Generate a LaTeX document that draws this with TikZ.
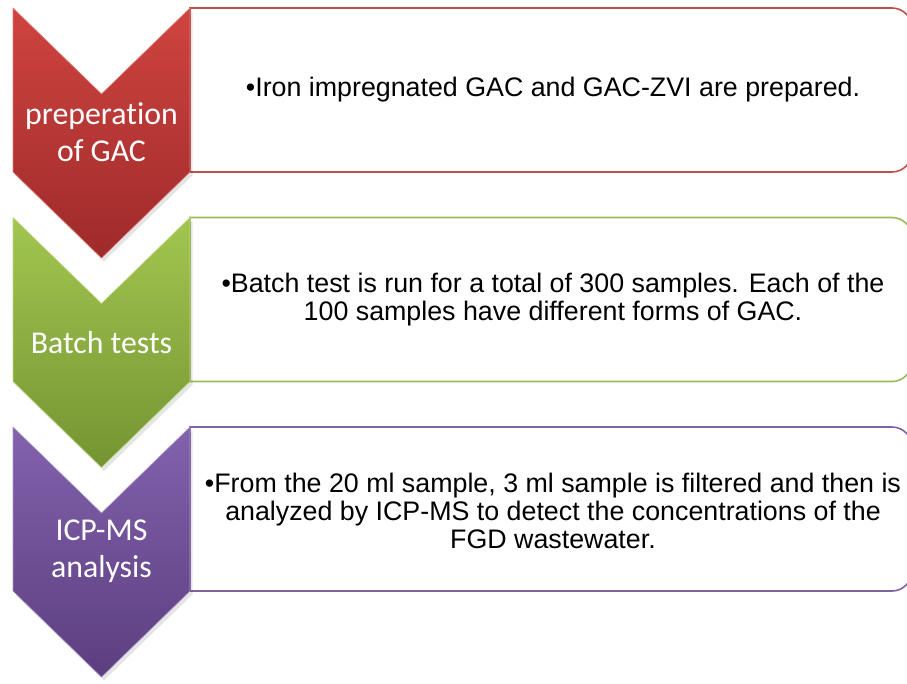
\documentclass[tikz,border=0pt]{standalone}
\usepackage{fontspec}
\setmainfont{Liberation Sans}
\newfontfamily\chevfont[Ligatures=NoCommon]{Carlito}
\definecolor{redtop}{RGB}{207,68,64}
\definecolor{redbot}{RGB}{158,42,42}
\definecolor{redline}{RGB}{192,80,77}
\definecolor{grntop}{RGB}{162,198,80}
\definecolor{grnbot}{RGB}{116,148,50}
\definecolor{grnline}{RGB}{155,187,89}
\definecolor{purtop}{RGB}{130,98,172}
\definecolor{purbot}{RGB}{92,62,128}
\definecolor{purline}{RGB}{128,100,162}
\tikzset{
  boxline/.style={line width=1.6pt, fill=white},
  chevshadow/.style={fill=black, opacity=0.10},
  chevtext/.style={font=\chevfont\fontsize{31.8}{37}\selectfont, text=white, align=center},
  boxtext/.style={font=\fontsize{26.8}{27.6}\selectfont, align=center, text=black, inner sep=0pt},
}
\newcommand\boxpath{(190,8) -- (892,8) .. controls (903,8) and (912,17) .. (912,28) -- (912,152) .. controls (912,163) and (903,172) .. (892,172) -- (190,172) -- cycle}
\newcommand\chevpath{(13,8) -- (101.5,94) -- (190,8) -- (190,172) -- (101.5,258) -- (13,172) -- cycle}
\begin{document}
\begin{tikzpicture}[x=1pt,y=-1pt]
\useasboundingbox (0,0) rectangle (907,683);
% step 1
\begin{scope}
  \draw[boxline, draw=redline] \boxpath;
  \begin{scope}[shift={(2.5,3.5)}]\fill[chevshadow] \chevpath;\end{scope}
  \shade[top color=redtop, bottom color=redbot, draw=redtop!70!white, line width=0.6pt] \chevpath;
  \node[chevtext] (c1) at (101.5,132) {preperation\\of GAC};
  \node[boxtext] (t1) at (553,90) {•Iron impregnated GAC and GAC-ZVI are prepared.};
\end{scope}
% step 2
\begin{scope}[shift={(0,209.5)}]
  \draw[boxline, draw=grnline] \boxpath;
  \begin{scope}[shift={(2.5,3.5)}]\fill[chevshadow] \chevpath;\end{scope}
  \shade[top color=grntop, bottom color=grnbot, draw=grntop!70!white, line width=0.6pt] \chevpath;
  \node[chevtext] (c2) at (101.5,133) {Batch tests};
  \node[boxtext] (t2) at (553,90) {•Batch test is run for a total of 300 samples. Each of the\\100 samples have different forms of GAC.};
\end{scope}
% step 3
\begin{scope}[shift={(0,419)}]
  \draw[boxline, draw=purline] \boxpath;
  \begin{scope}[shift={(2.5,3.5)}]\fill[chevshadow] \chevpath;\end{scope}
  \shade[top color=purtop, bottom color=purbot, draw=purtop!70!white, line width=0.6pt] \chevpath;
  \node[chevtext] (c3) at (101.5,132) {ICP-MS\\analysis};
  \node[boxtext] (t3) at (553,92) {•From the 20 ml sample, 3 ml sample is filtered and then is\\analyzed by ICP-MS to detect the concentrations of the\\FGD wastewater.};
\end{scope}
\end{tikzpicture}
\end{document}
